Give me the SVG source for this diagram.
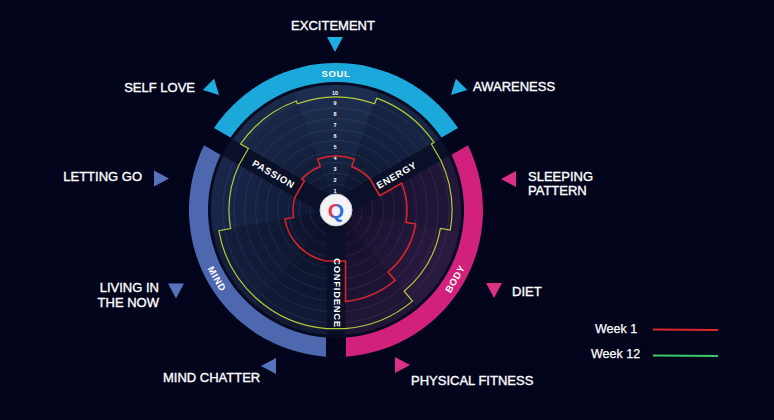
<svg xmlns="http://www.w3.org/2000/svg" width="774" height="420" viewBox="0 0 774 420">
<defs>
<style>
.lbl{font-family:"Liberation Sans",Arial,sans-serif;font-size:13px;fill:#ffffff;stroke:#ffffff;stroke-width:0.35px}
.grp{font-family:"Liberation Sans",Arial,sans-serif;font-size:9.5px;font-weight:bold;fill:#ffffff;letter-spacing:0.7px;text-anchor:middle}
.num{font-family:"Liberation Sans",Arial,sans-serif;font-size:5.5px;font-weight:bold;fill:#ffffff;text-anchor:middle}
.grid{fill:none;stroke:#8a9ac0;stroke-opacity:0.22;stroke-width:0.6}
.strip{fill:#0b1029}
.leg{font-family:"Liberation Sans",Arial,sans-serif;font-size:12.5px;fill:#ffffff;stroke:#ffffff;stroke-width:0.25px}
</style>
<polygon id="tri" points="-8,-5 8,-5 0,10"/>
<radialGradient id="shade" cx="336" cy="210" r="125" gradientUnits="userSpaceOnUse">
<stop offset="0" stop-color="#03061a" stop-opacity="0.6"/>
<stop offset="0.55" stop-color="#03061a" stop-opacity="0.2"/>
<stop offset="1" stop-color="#03061a" stop-opacity="0"/>
</radialGradient>
<linearGradient id="qg" x1="0" y1="0.2" x2="1" y2="0.7">
<stop offset="0.35" stop-color="#e8344c"/>
<stop offset="0.6" stop-color="#2e6fe0"/>
</linearGradient>
<clipPath id="discclip"><circle cx="336" cy="210" r="125"/></clipPath>
</defs>
<rect width="774" height="420" fill="#02041c"/>

<g id="disc">
<circle cx="336" cy="210" r="128" fill="#070b21"/>
<path d="M336,210 L227.75,147.5 A125,125 0 0 1 293.25,92.54 Z" fill="#1a2949"/>
<path d="M336,210 L293.25,92.54 A125,125 0 0 1 378.75,92.54 Z" fill="#1d2f51"/>
<path d="M336,210 L378.75,92.54 A125,125 0 0 1 444.25,147.5 Z" fill="#172544"/>
<path d="M336,210 L444.25,147.5 A125,125 0 0 1 459.10,231.71 Z" fill="#23173a"/>
<path d="M336,210 L459.10,231.71 A125,125 0 0 1 416.35,305.76 Z" fill="#2a1a40"/>
<path d="M336,210 L416.35,305.76 A125,125 0 0 1 336,335 Z" fill="#221636"/>
<path d="M336,210 L336,335 A125,125 0 0 1 255.65,305.76 Z" fill="#121a36"/>
<path d="M336,210 L255.65,305.76 A125,125 0 0 1 212.90,231.71 Z" fill="#151e3c"/>
<path d="M336,210 L212.90,231.71 A125,125 0 0 1 227.75,147.5 Z" fill="#19264a"/>
<circle cx="336" cy="210" r="125" fill="url(#shade)"/>
<g id="gridlines">
<circle class="grid" cx="336" cy="210" r="25.9"/>
<circle class="grid" cx="336" cy="210" r="36.8"/>
<circle class="grid" cx="336" cy="210" r="47.7"/>
<circle class="grid" cx="336" cy="210" r="58.6"/>
<circle class="grid" cx="336" cy="210" r="69.5"/>
<circle class="grid" cx="336" cy="210" r="80.4"/>
<circle class="grid" cx="336" cy="210" r="91.3"/>
<circle class="grid" cx="336" cy="210" r="102.2"/>
<circle class="grid" cx="336" cy="210" r="113.1"/>
</g>
<g clip-path="url(#discclip)">
<rect class="strip" x="-9.5" y="-125" width="19" height="125" transform="translate(336,210) rotate(60)"/>
<rect class="strip" x="-9.5" y="-125" width="19" height="125" transform="translate(336,210) rotate(180)"/>
<rect class="strip" x="-9.5" y="-125" width="19" height="125" transform="translate(336,210) rotate(300)"/>
</g>
</g>

<g id="scale">
<text class="num" x="335" y="192.6">1</text>
<text class="num" x="335" y="181.7">2</text>
<text class="num" x="335" y="170.8">3</text>
<text class="num" x="335" y="159.9">4</text>
<text class="num" x="335" y="149.0">5</text>
<text class="num" x="335" y="138.1">6</text>
<text class="num" x="335" y="127.2">7</text>
<text class="num" x="335" y="116.3">8</text>
<text class="num" x="335" y="105.4">9</text>
<text class="num" x="335" y="94.5">10</text>
</g>

<g id="connectors">
<path id="week12-line" d="M296.33,101.00 L297.35,103.81 A113,113 0 0 1 374.65,103.81 L376.70,98.18 A119,119 0 0 1 433.97,142.45 L431.36,143.95 L440.87,160.43 A116,116 0 0 1 450.24,230.14 L440.39,228.41 A106,106 0 0 1 404.14,291.20 L412.49,301.16 A119,119 0 0 1 345.50,328.62 L326.50,328.62 A119,119 0 0 1 218.81,230.66 L230.63,228.58 A107,107 0 0 1 238.95,164.93 L248.45,148.49 L240.64,143.95 A116,116 0 0 1 296.33,101.00 Z" fill="none" stroke="#b4c93c" stroke-width="1.2"/>
<path id="week1-line" d="M320.27,166.77 L317.53,159.26 A54,54 0 0 1 354.47,159.26 L351.73,166.77 A46,46 0 0 1 370.22,179.26 L379.73,195.73 L401.69,183.06 A71,71 0 0 1 405.92,222.33 L415.77,224.07 A81,81 0 0 1 388.07,272.05 L395.14,280.48 A92,92 0 0 1 345.50,301.51 L345.50,261.12 L326.50,261.12 A52,52 0 0 1 284.79,219.03 L293.65,217.47 A43,43 0 0 1 294.93,197.26 L304.44,180.80 L301.78,179.26 A46,46 0 0 1 320.27,166.77 Z" fill="none" stroke="#e0232b" stroke-width="1.5"/>
</g>

<g id="strip-labels">
<text class="grp" transform="translate(273.6,174) rotate(30)" y="3.4">PASSION</text>
<text class="grp" transform="translate(396.6,175) rotate(-30)" y="3.4">ENERGY</text>
<text class="grp" transform="translate(337,293) rotate(90)" y="3.4">CONFIDENCE</text>
</g>

<g id="logo">
<circle cx="336" cy="210" r="16" fill="#f3f3f6" stroke="#c9cdd8" stroke-width="1"/>
<text x="336" y="217.5" text-anchor="middle" font-family="Liberation Sans, Arial, sans-serif" font-weight="bold" font-size="21" fill="url(#qg)">Q</text>
</g>

<g id="soul">
<path d="M213.99,128.01 A147,147 0 0 1 458.01,128.01 L441.50,137.52 A128,128 0 0 0 230.50,137.52 Z" fill="#1ba9dc"/>
<text class="grp" x="336" y="76.8">SOUL</text>
<g id="excitement">
<text class="lbl" x="333" y="30" text-anchor="middle">EXCITEMENT</text>
<use href="#tri" fill="#1eaee0" transform="translate(335,42)"/>
</g>
<g id="self-love">
<text class="lbl" x="195" y="92" text-anchor="end">SELF LOVE</text>
<use href="#tri" fill="#1eaee0" transform="translate(212,88) rotate(-45)"/>
</g>
<g id="awareness">
<text class="lbl" x="473" y="91">AWARENESS</text>
<use href="#tri" fill="#1eaee0" transform="translate(458,88) rotate(45)"/>
</g>
</g>

<g id="body">
<path d="M468.01,145.33 A147,147 0 0 1 346.00,356.66 L346.00,337.61 A128,128 0 0 0 451.51,154.86 Z" fill="#d2217c"/>
<text class="grp" transform="translate(455.1,278.8) rotate(-60)" y="3.4">BODY</text>
<g id="sleeping-pattern">
<text class="lbl" x="528" y="181">SLEEPING</text>
<text class="lbl" x="528" y="195">PATTERN</text>
<use href="#tri" fill="#dc2f86" transform="translate(511,179) rotate(90)"/>
</g>
<g id="diet">
<text class="lbl" x="512" y="296">DIET</text>
<use href="#tri" fill="#dc2f86" transform="translate(494,288)"/>
</g>
<g id="physical-fitness">
<text class="lbl" x="411" y="385">PHYSICAL FITNESS</text>
<use href="#tri" fill="#dc2f86" transform="translate(400,365) rotate(-90)"/>
</g>
</g>

<g id="mind">
<path d="M326.00,356.66 A147,147 0 0 1 203.99,145.33 L220.49,154.86 A128,128 0 0 0 326.00,337.61 Z" fill="#4e68b0"/>
<text class="grp" transform="translate(216.9,278.8) rotate(60)" y="3.4">MIND</text>
<g id="letting-go">
<text class="lbl" x="142" y="181" text-anchor="end">LETTING GO</text>
<use href="#tri" fill="#5572bd" transform="translate(159,178.5) rotate(-90)"/>
</g>
<g id="living-in-the-now">
<text class="lbl" x="159" y="292" text-anchor="end">LIVING IN</text>
<text class="lbl" x="159" y="307" text-anchor="end">THE NOW</text>
<use href="#tri" fill="#5572bd" transform="translate(176,288.5)"/>
</g>
<g id="mind-chatter">
<text class="lbl" x="163" y="382">MIND CHATTER</text>
<use href="#tri" fill="#5572bd" transform="translate(271,366) rotate(90)"/>
</g>
</g>

<g id="legend">
<text class="leg" x="595" y="333">Week 1</text>
<line x1="653" y1="329.5" x2="718" y2="330" stroke="#e0262b" stroke-width="1.8"/>
<text class="leg" x="591" y="358">Week 12</text>
<line x1="653" y1="355.5" x2="718" y2="356" stroke="#3cc96c" stroke-width="1.8"/>
</g>
</svg>
